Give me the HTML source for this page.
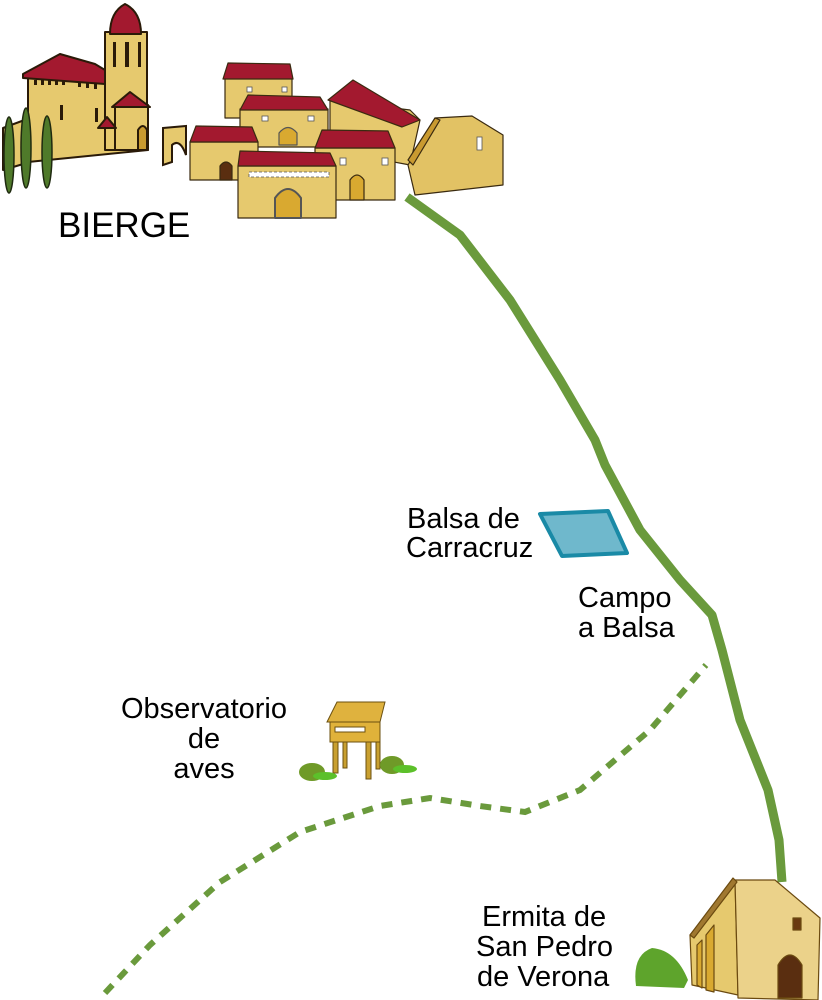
<!DOCTYPE html>
<html><head><meta charset="utf-8"><style>
html,body{margin:0;padding:0;background:#fff;}
svg{display:block;}
text{font-family:"Liberation Sans",Arial,sans-serif;fill:#000;}
</style></head><body>
<svg width="822" height="1000" viewBox="0 0 822 1000" xmlns="http://www.w3.org/2000/svg">
<path d="M407,197 L460,235 L510,300 L560,380 L595,440 L605,465 L640,530 L680,580 L712,615 L722,650 L740,720 L768,790 L779,840 L782,882" fill="none" stroke="#6a9a3c" stroke-width="9" stroke-linejoin="round"/>
<path d="M105,993 L150,945 L220,882 L300,832 L380,806 L430,798 L480,806 L525,812 L580,790 L650,730 L706,665" fill="none" stroke="#6a9a3c" stroke-width="6" stroke-dasharray="11,9"/>

<!-- church -->
<g stroke="#2a1a08" stroke-width="2" stroke-linejoin="round">
<polygon points="3,128 30,118 30,162 3,170" fill="#e6c96e"/>
<polygon points="28,76 105,80 148,105 148,150 28,162" fill="#e6c96e"/>
<polygon points="23,74 60,54 95,64 105,70 105,84 23,78" fill="#a3192f"/>
<rect x="105" y="32" width="42" height="118" fill="#e6c96e"/>
<path d="M110,34 Q110,12 125,4 Q141,12 141,34 Z" fill="#a3192f"/>
<polygon points="112,107 130,92 150,107" fill="#a3192f"/>
<rect x="115" y="107" width="33" height="43" fill="#e6c96e"/>
<polygon points="98,128 107,117 116,128" fill="#a3192f"/>
<path d="M138,150 L138,130 Q143,122 147,130 L147,150Z" fill="#c99a30"/>
</g>
<g fill="#2a1a08">
<rect x="34" y="80" width="3" height="5"/><rect x="41" y="80" width="3" height="5"/><rect x="48" y="80" width="3" height="5"/><rect x="55" y="80" width="3" height="5"/><rect x="62" y="80" width="3" height="5"/>
<rect x="78" y="82" width="3" height="5"/><rect x="86" y="83" width="3" height="5"/><rect x="94" y="84" width="3" height="5"/>
<rect x="60" y="105" width="3" height="15"/><rect x="95" y="108" width="3" height="14"/>
<rect x="113" y="42" width="3" height="25"/><rect x="125" y="42" width="4" height="25"/><rect x="138" y="42" width="3" height="25"/>
</g>
<g fill="#4f7a2a" stroke="#1f2a10" stroke-width="1.5">
<ellipse cx="9" cy="155" rx="5" ry="38"/><ellipse cx="26" cy="148" rx="5" ry="40"/><ellipse cx="47" cy="152" rx="5" ry="36"/>
</g>
<path d="M163,128 L186,126 L186,155 Q180,138 172,145 L172,162 L163,165Z" fill="#e6c96e" stroke="#2a1a08" stroke-width="2"/>

<!-- village -->
<g stroke="#3a2a10" stroke-width="1.2" stroke-linejoin="round">
<rect x="225" y="78" width="67" height="40" fill="#e6c96e"/>
<polygon points="228,63 290,64 293,79 223,79" fill="#a3192f"/>
<polygon points="330,100 410,110 420,120 410,165 330,150" fill="#e6c96e"/>
<polygon points="328,100 353,80 420,120 402,127" fill="#a3192f"/>
<polygon points="408,165 435,118 472,116 503,135 503,185 415,195" fill="#e2c264"/>
<polygon points="408,160 435,118 440,120 413,165" fill="#c99a30"/>
<rect x="240" y="109" width="88" height="38" fill="#e6c96e"/>
<polygon points="240,110 248,95 320,97 328,110" fill="#a3192f"/>
<path d="M279,145 L279,133 Q288,122 297,133 L297,145Z" fill="#d9a930" stroke="#555"/>
<rect x="190" y="142" width="68" height="38" fill="#e6c96e"/>
<polygon points="190,142 196,126 252,127 258,142" fill="#a3192f"/>
<path d="M220,180 L220,166 Q226,158 232,166 L232,180Z" fill="#5a2e10"/>
<rect x="315" y="148" width="80" height="52" fill="#e6c96e"/>
<polygon points="315,148 322,130 388,131 395,148" fill="#a3192f"/>
<path d="M350,200 L350,180 Q357,170 364,180 L364,200Z" fill="#d9a930"/>
<rect x="238" y="166" width="98" height="52" fill="#e6c96e"/>
<polygon points="238,166 240,151 330,153 336,166" fill="#a3192f"/>
<path d="M275,218 L275,198 Q288,180 301,198 L301,218Z" fill="#d9a930" stroke="#555" stroke-width="2"/>
</g>
<g fill="#fff" stroke="#555" stroke-width="0.8">
<rect x="247" y="87" width="5" height="5"/><rect x="282" y="87" width="5" height="5"/>
<rect x="262" y="116" width="6" height="5"/><rect x="308" y="116" width="6" height="5"/>
<rect x="340" y="158" width="6" height="7"/><rect x="382" y="158" width="6" height="7"/>
<rect x="477" y="137" width="5" height="13"/>
<rect x="249" y="172" width="80" height="5" fill="#fff" stroke-dasharray="3,2"/>
</g>

<polygon points="540,514 608,511 627,553 562,556" fill="#6fb8cc" stroke="#1a8aa6" stroke-width="4" stroke-linejoin="round"/>

<g stroke="#6b5010" stroke-width="1">
<rect x="333" y="741" width="5" height="32" fill="#c9a030"/>
<rect x="343" y="741" width="4" height="27" fill="#c9a030"/>
<rect x="366" y="741" width="5" height="38" fill="#c9a030"/>
<rect x="376" y="741" width="4" height="28" fill="#c9a030"/>
<rect x="330" y="722" width="50" height="20" fill="#e0b23a"/>
<polygon points="327,722 337,702 385,702 380,722" fill="#dfb23e"/>
<rect x="335" y="727" width="30" height="5" fill="#fff"/>
</g>
<g fill="#6f9a28">
<ellipse cx="312" cy="772" rx="13" ry="9"/><ellipse cx="392" cy="765" rx="12" ry="9"/>
</g>
<g fill="#5cc02a">
<ellipse cx="325" cy="776" rx="12" ry="4"/><ellipse cx="405" cy="769" rx="12" ry="4"/>
</g>

<g stroke="#6b4a10" stroke-width="1.2" stroke-linejoin="round">
<polygon points="690,935 735,880 738,995 692,985" fill="#e6c96e"/>
<polygon points="735,880 775,880 820,918 818,1000 738,998" fill="#ebd28a"/>
<polygon points="690,935 733,878 737,882 694,938" fill="#a07830"/>
<path d="M697,985 L697,945 L702,940 L702,988Z" fill="#d9a930"/>
<path d="M706,990 L706,935 L714,925 L714,992Z" fill="#d9a930"/>
<path d="M778,998 L778,965 Q790,945 802,965 L802,998Z" fill="#5a2e10"/>
<rect x="793" y="918" width="8" height="12" fill="#6a3a10"/>
</g>
<path d="M636,986 Q632,955 652,948 Q676,950 688,980 L684,988Z" fill="#5ea42c"/>

<text x="58" y="237" font-size="35">BIERGE</text>
<text x="407" y="528" font-size="29">Balsa de</text>
<text x="406" y="557" font-size="29">Carracruz</text>
<text x="578" y="607" font-size="29">Campo</text>
<text x="578" y="637" font-size="29">a Balsa</text>
<text x="204" y="718" font-size="29" text-anchor="middle">Observatorio</text>
<text x="204" y="748" font-size="29" text-anchor="middle">de</text>
<text x="204" y="778" font-size="29" text-anchor="middle">aves</text>
<text x="482" y="926" font-size="29">Ermita de</text>
<text x="476" y="956" font-size="29">San Pedro</text>
<text x="477" y="986" font-size="29">de Verona</text>
</svg>
</body></html>
